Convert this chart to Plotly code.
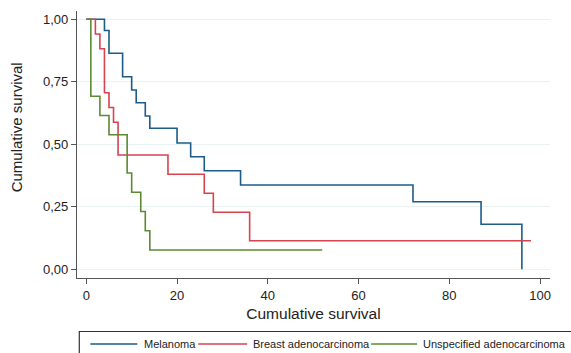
import plotly.graph_objects as go

# Kaplan-Meier step data (time, survival)
mel_t = [0, 4, 5, 8, 10, 11, 13, 14, 20, 23, 26, 34, 72, 87, 96, 96]
mel_s = [1.0, 0.955, 0.864, 0.770, 0.717, 0.666, 0.613, 0.564, 0.505, 0.450, 0.394, 0.337, 0.270, 0.180, 0.0, 0.0]

br_t = [0, 2, 3, 4, 5, 6, 7, 18, 26, 28, 36, 98]
br_s = [1.0, 0.941, 0.882, 0.706, 0.647, 0.588, 0.457, 0.380, 0.304, 0.228, 0.114, 0.114]

un_t = [0, 1, 3, 5, 9, 10, 12, 13, 14, 52]
un_s = [1.0, 0.692, 0.615, 0.538, 0.385, 0.308, 0.231, 0.154, 0.077, 0.077]

series_names = ["Melanoma", "Breast adenocarcinoma", "Unspecified adenocarcinoma"]
colors = ["#1d5c89", "#d5444f", "#5b8a32"]

y_tickvals = [0, 0.25, 0.5, 0.75, 1.0]
y_ticktext = ["0,00", "0,25", "0,50", "0,75", "1,00"]
x_tickvals = [0, 20, 40, 60, 80, 100]

W, H = 571, 353
L, R, T, B = 76.7, 550.0, 11.0, 278.0

def px_x(px):
    return (px - L) / (R - L)

def px_y(py):
    return (B - py) / (B - T)

fig = go.Figure()
for (t, s), name, col in zip([(mel_t, mel_s), (br_t, br_s), (un_t, un_s)], series_names, colors):
    fig.add_trace(go.Scatter(x=t, y=s, mode="lines", line=dict(color=col, width=1.6, shape="hv"),
                             name=name, showlegend=False))

font_family = "Liberation Sans, Arial, Helvetica, sans-serif"

fig.update_layout(
    width=W, height=H,
    margin=dict(l=L, r=W - R, t=T, b=H - B),
    plot_bgcolor="white", paper_bgcolor="white",
    font=dict(family=font_family, color="#222222"),
    xaxis=dict(range=[-2.05, 102.2], tickvals=x_tickvals, showgrid=False, zeroline=False,
               showline=True, linecolor="#555555", linewidth=1.3,
               ticks="outside", ticklen=5, tickcolor="#555555", tickwidth=1.2,
               tickfont=dict(size=13, color="#222222"),
               title=dict(text="Cumulative survival", font=dict(size=15.5, color="#222222"), standoff=6)),
    yaxis=dict(range=[-0.035, 1.033], tickvals=y_tickvals, ticktext=y_ticktext,
               showgrid=True, gridcolor="#eaf1f2", gridwidth=1, zeroline=False,
               showline=True, linecolor="#555555", linewidth=1.3,
               ticks="outside", ticklen=5, tickcolor="#555555", tickwidth=1.2,
               tickfont=dict(size=13, color="#222222")),
    showlegend=False,
)

# Y-axis title (placed as in the reference, slightly above the plot centre)
fig.add_annotation(xref="paper", yref="paper", x=px_x(17), y=px_y(127), text="Cumulative survival",
                   textangle=-90, showarrow=False, xanchor="center", yanchor="middle",
                   font=dict(size=15, color="#222222"))

# Legend box (extends beyond the figure edges as in the reference)
fig.add_shape(type="rect", xref="paper", yref="paper",
              x0=px_x(79), x1=px_x(W + 20), y0=px_y(H + 20), y1=px_y(331.5),
              line=dict(color="#333333", width=1.2), fillcolor="rgba(0,0,0,0)", layer="above")

leg_y = px_y(344)
leg_lines = [(90, 137), (198, 247), (371, 417)]
leg_text_x = [143, 252, 422]
for (a, b), tx, name, col in zip(leg_lines, leg_text_x, series_names, colors):
    fig.add_shape(type="line", xref="paper", yref="paper", x0=px_x(a), x1=px_x(b), y0=leg_y, y1=leg_y,
                  line=dict(color=col, width=1.6))
    fig.add_annotation(xref="paper", yref="paper", x=px_x(tx), y=leg_y, text=name, showarrow=False,
                       xanchor="left", yanchor="middle", font=dict(size=11, color="#222222"),
                       borderpad=0)

fig.write_html("out.html")
